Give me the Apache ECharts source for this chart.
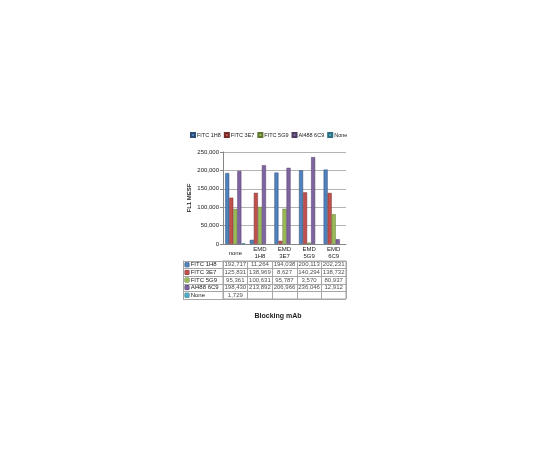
<!DOCTYPE html>
<html>
<head>
<meta charset="utf-8">
<script src="https://cdn.jsdelivr.net/npm/echarts@6/dist/echarts.min.js"></script>
<style>
	html, body { margin: 0; padding: 0; background: #fff; }
	#chart { width: 540px; height: 450px; }
</style>
</head>
<body>
<div id="chart"></div>
<script>
var categories = ['none', 'EMD 1H8', 'EMD 3E7', 'EMD 5G9', 'EMD 6C9'];
var seriesNames = ['FITC 1H8', 'FITC 3E7', 'FITC 5G9', 'Al488 6C9', 'None'];
var fitc1H8 = [192717, 11264, 194038, 200113, 202231];
var fitc3E7 = [125831, 138969, 8627, 140294, 138732];
var fitc5G9 = [95361, 100631, 95787, 3570, 80937];
var al488_6C9 = [198430, 213892, 206966, 236046, 12912];
var none = [1729, null, null, null, null];
var yTicks = [0, 50000, 100000, 150000, 200000, 250000];

var values = [fitc1H8, fitc3E7, fitc5G9, al488_6C9, none];
var colors = ['#4f81bd', '#c0504d', '#9bbb59', '#8064a2', '#4bacc6'];
var edges = ['#2c4d75', '#772c2a', '#5f7530', '#4d3b62', '#2c6d80'];
var font = 'Liberation Sans';
var lineColor = '#a6a6a6';

function fmt(v) {
	return String(v).replace(/\B(?=(\d{3})+(?!\d))/g, ',');
}

var chart = echarts.init(document.getElementById('chart'));

// bars
var series = [];
for (var i = 0; i < seriesNames.length; i++) {
	series.push({
		name: seriesNames[i],
		type: 'bar',
		xAxisIndex: 0,
		yAxisIndex: 0,
		barGap: '0%',
		barCategoryGap: '18%',
		itemStyle: { color: colors[i], borderColor: edges[i], borderWidth: 0.5 },
		data: values[i]
	});
}

// data table cells
var cells = [];
for (var s = 0; s < seriesNames.length; s++) {
	for (var c = 0; c < categories.length; c++) {
		if (values[s][c] != null) {
			cells.push([categories[c], seriesNames[s], values[s][c]]);
		}
	}
}
series.push({
	type: 'scatter',
	xAxisIndex: 1,
	yAxisIndex: 1,
	symbolSize: 1,
	itemStyle: { color: 'transparent' },
	silent: true,
	label: {
		show: true,
		position: 'inside',
		fontFamily: font,
		fontSize: 6,
		color: '#222',
		formatter: function (p) {
			return fmt(p.value[2]);
		}
	},
	data: cells
});

var rich = {};
for (var k = 0; k < colors.length; k++) {
	rich['c' + k] = {
		width: 4,
		height: 4,
		backgroundColor: colors[k],
		borderColor: edges[k],
		borderWidth: 0.5
	};
}

chart.setOption({
	animation: false,
	backgroundColor: '#fff',
	title: {
		text: 'Blocking mAb',
		left: 278,
		top: 313,
		padding: 0,
		textAlign: 'center',
		textStyle: { fontFamily: font, fontSize: 7, fontWeight: 'bold', color: '#222' }
	},
	legend: {
		data: seriesNames,
		left: 190,
		top: 132,
		padding: 0,
		icon: 'rect',
		itemWidth: 4,
		itemHeight: 4,
		itemGap: 3,
		textStyle: { fontFamily: font, fontSize: 5.5, color: '#222', padding: [0, 0, 0, -3] }
	},
	grid: [
		{ left: 223, top: 152, width: 123, height: 92 },
		{ left: 223, top: 261, width: 123, height: 38, show: true, borderColor: lineColor, borderWidth: 1 }
	],
	xAxis: [
		{
			type: 'category',
			gridIndex: 0,
			data: categories,
			axisLine: { lineStyle: { color: '#868686' } },
			axisTick: { length: 17, interval: 0, lineStyle: { color: lineColor } },
			axisLabel: {
				interval: 0,
				margin: 9,
				verticalAlign: 'middle',
				lineHeight: 7,
				fontFamily: font,
				fontSize: 6,
				color: '#222',
				formatter: function (v) {
					return v.replace(' ', '\n');
				}
			}
		},
		{
			type: 'category',
			gridIndex: 1,
			data: categories,
			axisLine: { show: false },
			axisTick: { show: false },
			axisLabel: { show: false },
			splitLine: { show: true, interval: 0, lineStyle: { color: lineColor } }
		}
	],
	yAxis: [
		{
			type: 'value',
			gridIndex: 0,
			min: 0,
			max: yTicks[yTicks.length - 1],
			interval: yTicks[1] - yTicks[0],
			name: 'FL1 MESF',
			nameLocation: 'middle',
			nameGap: 31,
			nameTextStyle: { fontFamily: font, fontSize: 6, fontWeight: 'bold', color: '#222' },
			axisLine: { show: true, lineStyle: { color: '#868686' } },
			axisTick: { show: true, length: 3, lineStyle: { color: '#868686' } },
			axisLabel: {
				margin: 4,
				fontFamily: font,
				fontSize: 6,
				color: '#222',
				formatter: function (v) {
					return fmt(v);
				}
			},
			splitLine: { lineStyle: { color: '#b3b3b3' } }
		},
		{
			type: 'category',
			gridIndex: 1,
			inverse: true,
			data: seriesNames,
			axisLine: { show: true, lineStyle: { color: lineColor } },
			axisTick: { show: true, length: 40, interval: 0, lineStyle: { color: lineColor } },
			axisLabel: {
				interval: 0,
				align: 'left',
				margin: 38,
				fontFamily: font,
				fontSize: 6,
				color: '#222',
				rich: rich,
				formatter: function (v, idx) {
					return '{c' + idx + '|} ' + v;
				}
			},
			splitLine: { show: true, interval: 0, lineStyle: { color: lineColor } }
		},
		{
			// left edge of the table's label column
			type: 'value',
			gridIndex: 1,
			position: 'left',
			offset: 40,
			min: 0,
			max: 1,
			axisLine: { show: true, lineStyle: { color: lineColor } },
			axisTick: { show: false },
			axisLabel: { show: false },
			splitLine: { show: false }
		}
	],
	series: series
});
</script>
</body>
</html>
